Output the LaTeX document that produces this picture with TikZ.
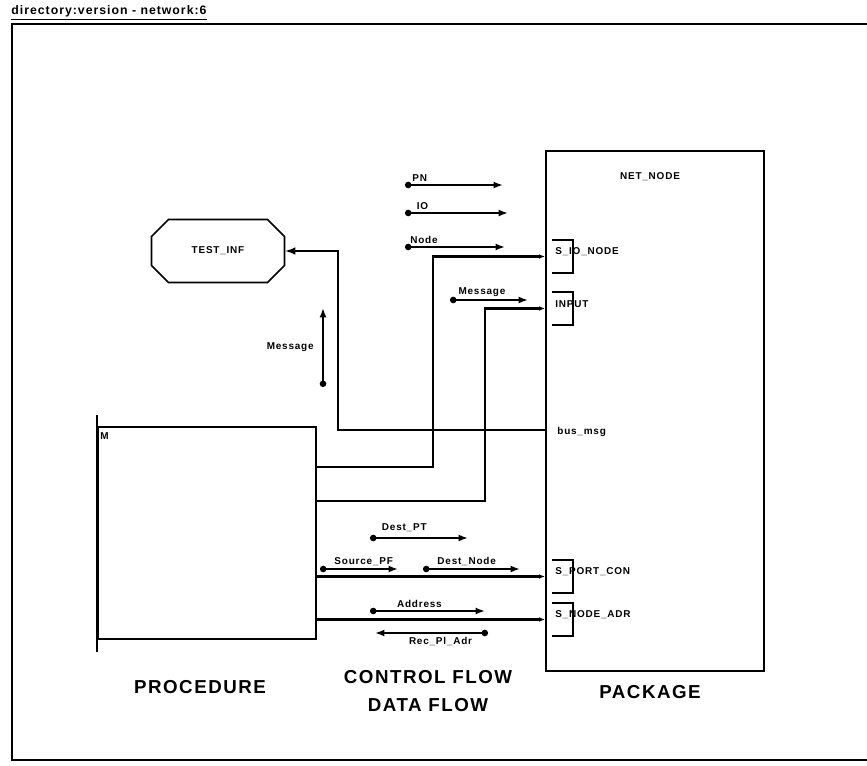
\documentclass[tikz,border=0pt]{standalone}
\usepackage{fontspec}
\setmainfont{Liberation Sans}
\newfontfamily\plotfont{Liberation Sans}[LetterSpace=8]
\usepackage{tikz}
\usetikzlibrary{
  arrows,
  arrows.meta,
  shapes.misc,
  positioning,
  calc
}
\tikzset{>=latex}
\tikzset{
  lbl/.style={font=\plotfont\bfseries\fontsize{8.5}{10}\selectfont, inner sep=1pt},
  biglbl/.style={font=\plotfont\bfseries\fontsize{16}{24}\selectfont, align=center},
  unit/.style={draw, line width=1.8pt, inner sep=0pt},
  portbox/.style={inner sep=0pt, outer sep=0pt, minimum width=0.63cm,
    minimum height=0.99cm, anchor=north west},
  wire/.style={line width=1.9pt},
  inwire/.style={wire, -{Latex[length=5pt,width=4pt]}},
  flow/.style={line width=2pt, {Circle[length=5.5pt]}-{Latex[length=8pt,width=6pt]}}
}

\begin{document}
\begin{tikzpicture}[x=0.03cm, y=-0.03cm]
  \useasboundingbox (0,0) rectangle (867,766);
  % sheet frame
  \node[lbl, font=\plotfont\bfseries\fontsize{10.5}{12}\selectfont, anchor=base west]
    (title) at (10,15) {\underline{directory:version - network:6}};
  \draw[line width=1.4pt] (867,24) -- (12,24) -- (12,760) -- (867,760);

  % package
  \node[unit, anchor=north west, minimum width=6.54cm, minimum height=15.6cm] (pkg) at (545,150) {};
  \node[lbl] (netnode) at (650,177) {NET\_NODE};
  \foreach \nm/\yy/\txt in {pio/240/S\_IO\_NODE, pinp/292/INPUT,
      pcon/560/S\_PORT\_CON, padr/603/S\_NODE\_ADR}{
    \node[portbox] (\nm) at (552,\yy) {};
    \draw[wire] (\nm.north west) -- (\nm.north east) -- (\nm.south east) -- (\nm.south west);
    \node[lbl, anchor=west] (\nm-lbl) at (554,\yy+12) {\txt};
  }
  \node[lbl, anchor=west] (buslbl) at (556,432) {bus\_msg};

  % procedure
  \node[unit, anchor=north west, minimum width=6.54cm, minimum height=6.36cm] (proc) at (97,426) {};
  \draw[wire] ([yshift=0.33cm]proc.north west) -- ([yshift=-0.36cm]proc.south west);
  \node[lbl, anchor=north west] (mlbl) at (99,431) {M};

  % task
  \node[draw, line width=1.4pt, chamfered rectangle, chamfered rectangle xsep=0.9cm,
    chamfered rectangle ysep=0.35cm, minimum width=3.99cm, minimum height=1.89cm, lbl]
    (inf) at (218,251) {TEST\_INF};

  % connections
  \draw[wire, ->] (pkg.west |- 0,430) -| ([xshift=1.59cm]inf.east) -- (inf.east);
  \draw[inwire] (proc.east |- 0,467) -| (pio.west -| 433,0) -- (pkg.west |- pio.west);
  \draw[inwire] (proc.east |- 0,501) -| (pinp.west -| 485,0) -- (pkg.west |- pinp.west);
  \draw[inwire] (proc.east |- pcon.west) -- (pkg.west |- pcon.west);
  \draw[inwire] (proc.east |- padr.west) -- (pkg.west |- padr.west);

  % control and data flows
  \draw[flow] (405,185) -- node[lbl, above=1pt, pos=0.15] (pnlbl) {PN} (503,185);
  \draw[flow] (405,213) -- node[lbl, above=1pt, pos=0.17] (iolbl) {IO} (508,213);
  \draw[flow] (405,247) -- node[lbl, above=1pt, pos=0.19] (nodelbl) {Node} (505,247);
  \draw[flow] (450,300) -- node[lbl, above=1pt, pos=0.41] (msglbl) {Message} (528,300);
  \draw[flow] (323,387) -- node[lbl, left=6pt] (upmsglbl) {Message} (323,308);
  \draw[flow] (370,538) -- node[lbl, above=3pt, pos=0.35] (dptlbl) {Dest\_PT} (468,538);
  \draw[flow] (320,569) -- node[lbl, above=1pt, pos=0.56] (spflbl) {Source\_PF} (398,569);
  \draw[flow] (423,569) -- node[lbl, above=1pt, pos=0.45] (dnlbl) {Dest\_Node} (520,569);
  \draw[flow] (370,611) -- node[lbl, above=1pt, pos=0.43] (adrlbl) {Address} (485,611);
  \draw[flow] (488,633) -- node[lbl, below=2pt, pos=0.42] (reclbl) {Rec\_Pl\_Adr} (375,633);

  % captions
  \node[biglbl] (procname) at (200,687) {PROCEDURE};
  \node[biglbl] (flowname) at (428,691) {CONTROL FLOW\\DATA FLOW};
  \node[biglbl] (pkgname) at (650,692) {PACKAGE};
\end{tikzpicture}
\end{document}
